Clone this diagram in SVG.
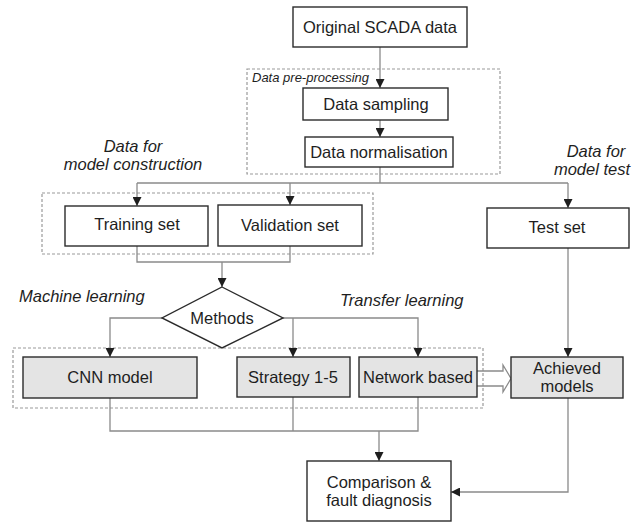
<svg xmlns="http://www.w3.org/2000/svg" width="638" height="523" viewBox="0 0 638 523">
  <defs>
    <marker id="arrow" viewBox="0 0 10 10" refX="10" refY="5" markerWidth="9" markerHeight="9" markerUnits="userSpaceOnUse" orient="auto">
      <path d="M0,0 L10,5 L0,10 z" fill="#1e1e1e"/>
    </marker>
    <style>
      .box { fill: #ffffff; stroke: #2b2b2b; stroke-width: 1.4; }
      .shaded { fill: #e4e4e4; stroke: #2b2b2b; stroke-width: 1.4; }
      .group { fill: none; stroke: #9a9a9a; stroke-width: 1.2; stroke-dasharray: 3 2; }
      .wire { fill: none; stroke: #8a8a8a; stroke-width: 1.3; }
      .lbl { font-family: "Liberation Sans", Arial, sans-serif; font-size: 16.5px; fill: #1e1e1e; text-anchor: middle; }
      .note { font-family: "Liberation Sans", Arial, sans-serif; font-size: 16.5px; font-style: italic; fill: #1e1e1e; }
      .small { font-family: "Liberation Sans", Arial, sans-serif; font-size: 13px; font-style: italic; fill: #1e1e1e; }
    </style>
  </defs>

  <!-- grouping frames -->
  <g id="frames">
    <rect class="group" x="247" y="69" width="253" height="105"/>
    <rect class="group" x="42" y="193" width="331" height="61"/>
    <rect class="group" x="13" y="348" width="470" height="60"/>
  </g>

  <!-- connectors -->
  <g id="connectors">
    <path class="wire" d="M380,47 V88" marker-end="url(#arrow)"/>
    <path class="wire" d="M380,120 V137" marker-end="url(#arrow)"/>
    <path class="wire" d="M380,167 V183 M137,183 H568"/>
    <path class="wire" d="M137,183 V206" marker-end="url(#arrow)"/>
    <path class="wire" d="M290,183 V205" marker-end="url(#arrow)"/>
    <path class="wire" d="M568,183 V208" marker-end="url(#arrow)"/>
    <path class="wire" d="M137,246 V262 H290 V246"/>
    <path class="wire" d="M222,262 V287" marker-end="url(#arrow)"/>
    <path class="wire" d="M162,318 H110 V357" marker-end="url(#arrow)"/>
    <path class="wire" d="M283,318 H418 V357" marker-end="url(#arrow)"/>
    <path class="wire" d="M293,318 V357" marker-end="url(#arrow)"/>
    <path class="wire" d="M568,248 V357" marker-end="url(#arrow)"/>
    <path class="wire" d="M110,398 V431 H418 V397 M293,397 V431"/>
    <path class="wire" d="M379,431 V461" marker-end="url(#arrow)"/>
    <path class="wire" d="M568,398 V492 H451" marker-end="url(#arrow)"/>
    <path class="wire" d="M477,371 H503 V365 L511,378.5 L503,392 V386 H477"/>
  </g>

  <!-- side notes -->
  <g id="notes">
    <text class="small" x="252" y="82">Data pre-processing</text>
    <text class="note" x="133" y="152" text-anchor="middle">Data for</text>
    <text class="note" x="133" y="170" text-anchor="middle">model construction</text>
    <text class="note" x="596" y="157" text-anchor="middle">Data for</text>
    <text class="note" x="592" y="175" text-anchor="middle">model test</text>
    <text class="note" x="19" y="302">Machine learning</text>
    <text class="note" x="340" y="306">Transfer learning</text>
  </g>

  <g id="scada">
    <rect class="box" x="293" y="7" width="174" height="40"/>
    <text class="lbl" x="380" y="33">Original SCADA data</text>
  </g>
  <g id="sampling">
    <rect class="box" x="303" y="88" width="145" height="32"/>
    <text class="lbl" x="376" y="110">Data sampling</text>
  </g>
  <g id="normalisation">
    <rect class="box" x="305" y="137" width="148" height="30"/>
    <text class="lbl" x="379" y="158">Data normalisation</text>
  </g>
  <g id="training">
    <rect class="box" x="65" y="206" width="143" height="40"/>
    <text class="lbl" x="137" y="230">Training set</text>
  </g>
  <g id="validation">
    <rect class="box" x="218" y="205" width="144" height="41"/>
    <text class="lbl" x="290" y="231">Validation set</text>
  </g>
  <g id="test">
    <rect class="box" x="487" y="208" width="142" height="40"/>
    <text class="lbl" x="557" y="233">Test set</text>
  </g>
  <g id="methods">
    <polygon class="box" points="222,287 283,318 222,348 162,318"/>
    <text class="lbl" x="222" y="324">Methods</text>
  </g>
  <g id="cnn">
    <rect class="shaded" x="23" y="357" width="174" height="41"/>
    <text class="lbl" x="110" y="383">CNN model</text>
  </g>
  <g id="strategy">
    <rect class="shaded" x="237" y="357" width="113" height="40"/>
    <text class="lbl" x="293" y="383">Strategy 1-5</text>
  </g>
  <g id="network">
    <rect class="shaded" x="359" y="357" width="118" height="40"/>
    <text class="lbl" x="418" y="383">Network based</text>
  </g>
  <g id="achieved">
    <rect class="shaded" x="511" y="357" width="112" height="41"/>
    <text class="lbl" x="567" y="374">Achieved</text>
    <text class="lbl" x="567" y="392">models</text>
  </g>
  <g id="comparison">
    <rect class="box" x="307" y="461" width="144" height="60"/>
    <text class="lbl" x="379" y="488">Comparison &amp;</text>
    <text class="lbl" x="379" y="506">fault diagnosis</text>
  </g>
</svg>
